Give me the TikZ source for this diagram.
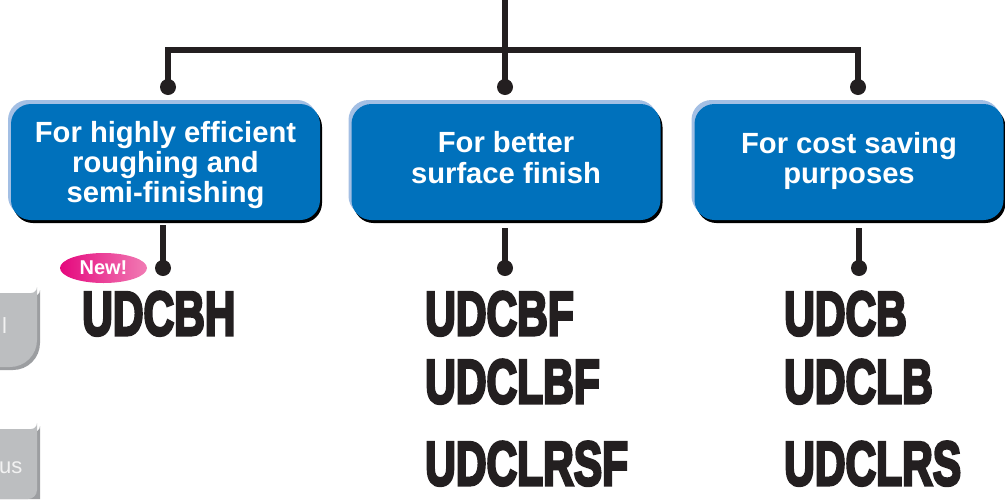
\documentclass[tikz,border=0pt]{standalone}
\usepackage{fontspec}
\setmainfont{Liberation Sans}
\newfontfamily\prodfont[BoldFeatures={FakeBold=5}]{Liberation Sans}
\usetikzlibrary{shapes.geometric}
\definecolor{boxblue}{HTML}{0071BC}
\definecolor{hiblue}{HTML}{A3BFE4}
\definecolor{linek}{HTML}{231F20}
\definecolor{tabgrey}{HTML}{BCBEC0}
\definecolor{tabshadow}{HTML}{9C9EA1}
\definecolor{newpinkA}{HTML}{E5087E}
\definecolor{newpinkB}{HTML}{F17CB4}
\tikzset{
  catbox/.style={rectangle, rounded corners=20pt, fill=boxblue,
    minimum width=309pt, minimum height=116pt, inner sep=0pt,
    text=white, align=center,
    font=\bfseries\fontsize{29.2}{30}\selectfont,
    preaction={fill=black, transform canvas={shift={(2,3)}}},
    preaction={fill=hiblue, transform canvas={shift={(-3,-4)}}}},
  conn/.style={draw=linek, line width=6pt, line join=miter},
  dot/.style={circle, fill=linek, minimum size=16pt, inner sep=0pt},
  prod/.style={anchor=base west, inner sep=0pt, text=linek,
    font=\prodfont\bfseries\fontsize{62}{62}\selectfont},
  newtag/.style={ellipse, minimum width=87pt, minimum height=30pt, inner sep=0pt,
    left color=newpinkA, right color=newpinkB, text=white,
    font=\bfseries\fontsize{20}{20}\selectfont},
  tabtext/.style={text=white!95!black, font=\fontsize{22}{22}\selectfont, inner sep=0pt}
}
\begin{document}
\begin{tikzpicture}[x=1pt,y=-1pt]
\useasboundingbox (0,0) rectangle (1005,499);
% grey side tabs (cut off at the left edge)
\fill[tabshadow] (0,296) -- (34,296) arc[start angle=90,end angle=0,radius=6] -- (40,343) arc[start angle=0,end angle=90,radius=27] -- (0,370) -- cycle;
\fill[tabgrey] (0,293) -- (31,293) arc[start angle=90,end angle=0,radius=6] -- (37,340) arc[start angle=0,end angle=90,radius=27] -- (0,367) -- cycle;
\node[tabtext, anchor=base west] (t1) at (2,333) {l};
\fill[tabshadow] (0,432) -- (34,432) arc[start angle=90,end angle=0,radius=6] -- (40,499) -- (0,499) -- cycle;
\fill[tabgrey] (0,429) -- (31,429) arc[start angle=90,end angle=0,radius=6] -- (37,490) arc[start angle=0,end angle=90,radius=9] -- (0,499) -- cycle;
\node[tabtext, anchor=base west] (t2) at (-1,473) {us};
% category boxes
\node[catbox] (b1) at (165.5,162) {\rule{0pt}{29pt}For highly efficient\\roughing and\\semi-finishing\strut};
\node[catbox] (b2) at (506,162) {\strut For better\\surface finish\strut};
\node[catbox] (b3) at (849,162) {\strut For cost saving\\purposes\strut};
% top tree
\coordinate (top) at (505,0);
\coordinate (jl) at (168,50);
\coordinate (jm) at (505,50);
\coordinate (jr) at (858,50);
\node[dot] (d1) at (168,87) {};
\node[dot] (d2) at (505,87) {};
\node[dot] (d3) at (858,87) {};
\draw[conn] (top) -- (jm) -- (d2.center);
\draw[conn] (d1.center) -- (jl) -- (jr) -- (d3.center);
% lower connectors
\node[dot] (e1) at (163,268) {};
\node[dot] (e2) at (505,268) {};
\node[dot] (e3) at (859,268) {};
\draw[conn] (e1.center) -- ([yshift=-5pt]b1.south -| e1.center);
\draw[conn] (e2.center) -- ([yshift=-8pt]b2.south -| e2.center);
\draw[conn] (e3.center) -- ([yshift=-8pt]b3.south -| e3.center);
% new tag
\node[newtag] (new) at (103.5,268) {New!};
% product names
\node[prod] (p1) at (82,335) {\scalebox{0.685}[1]{UDCBH}};
\node[prod] (p2) at (425,335) {\scalebox{0.685}[1]{UDCBF}};
\node[prod] (p3) at (425,403) {\scalebox{0.685}[1]{UDCLBF}};
\node[prod] (p4) at (425,485) {\scalebox{0.685}[1]{UDCLRSF}};
\node[prod] (p5) at (784,335) {\scalebox{0.685}[1]{UDCB}};
\node[prod] (p6) at (784,403) {\scalebox{0.685}[1]{UDCLB}};
\node[prod] (p7) at (784,485) {\scalebox{0.685}[1]{UDCLRS}};
\end{tikzpicture}
\end{document}
